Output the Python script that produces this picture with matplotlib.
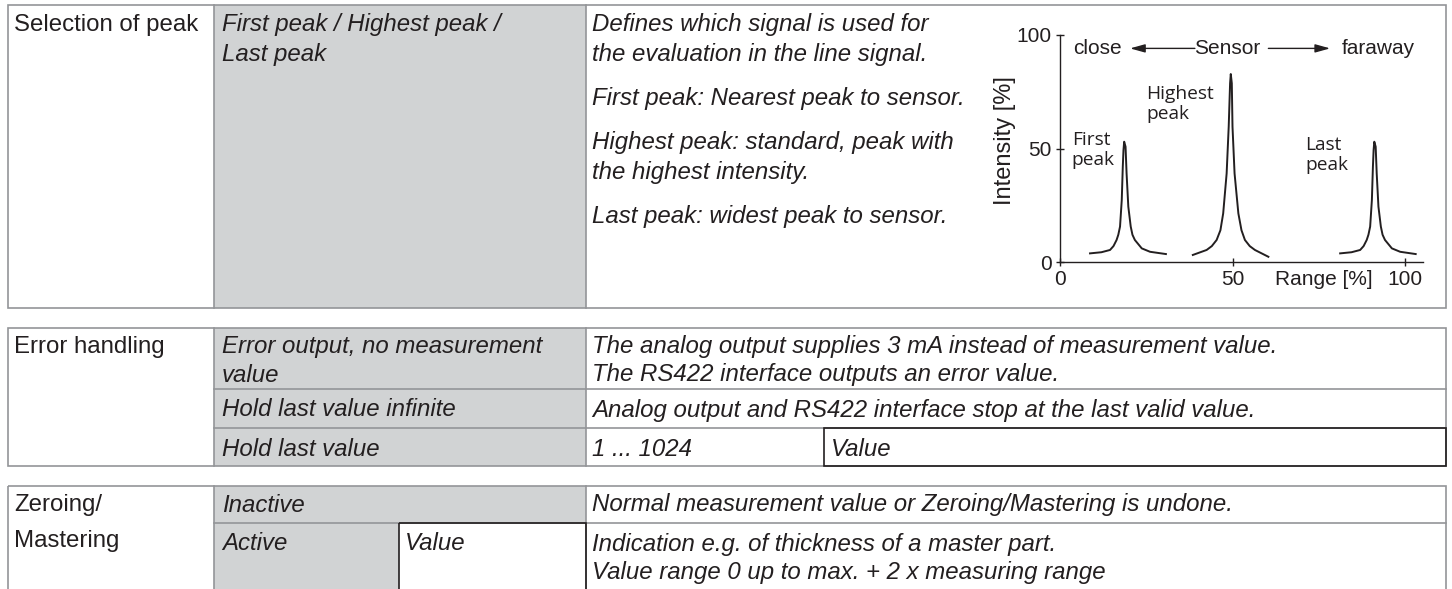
import matplotlib.pyplot as plt
from matplotlib.patches import Rectangle

plt.rcParams["font.family"] = ["Liberation Sans", "DejaVu Sans"]

INK = "#231f20"
RULE = "#939598"
SHADE = "#d1d3d4"
TXT = 17.3

# peak curves (range in %, intensity in %)
first_x = [8.7, 12.0, 14.5, 15.5, 16.4, 16.9, 17.4, 17.9, 18.2, 18.4, 18.6,
           19.0, 19.3, 19.8, 20.5, 21.0, 21.7, 23.7, 26.1, 30.7]
first_y = [3.8, 4.3, 5.3, 7.0, 9.7, 12.0, 15.6, 27.3, 42.0, 49.3, 53.0,
           50.8, 39.0, 24.4, 15.6, 12.0, 9.7, 6.0, 4.5, 3.5]
high_x = [38.5, 42.5, 44.0, 45.4, 46.5, 47.3, 48.3, 48.9, 49.3, 49.5,
          49.8, 50.0, 50.6, 51.7, 52.6, 53.6, 55.0, 56.5, 60.4]
high_y = [3.1, 5.3, 7.0, 9.7, 14.0, 21.4, 39.0, 59.6, 78.7, 82.8,
          78.7, 59.6, 39.0, 21.4, 14.0, 9.7, 7.0, 5.3, 2.3]
last_x = [81.2, 84.5, 87.0, 88.0, 88.9, 89.4, 89.9, 90.4, 90.7, 90.9, 91.1,
          91.5, 91.8, 92.3, 93.0, 93.5, 94.2, 96.2, 98.6, 103.1]
last_y = [3.8, 4.3, 5.3, 7.0, 9.7, 12.0, 15.6, 27.3, 42.0, 49.3, 53.0,
          50.8, 39.0, 24.4, 15.6, 12.0, 9.7, 6.0, 4.5, 3.5]
ticks = [0, 50, 100]

# table texts
sel_name = ["Selection of peak"]
sel_option = ["First peak / Highest peak /", "Last peak"]
sel_desc = ["Defines which signal is used for",
            "the evaluation in the line signal.",
            "First peak: Nearest peak to sensor.",
            "Highest peak: standard, peak with",
            "the highest intensity.",
            "Last peak: widest peak to sensor."]
err_name = ["Error handling"]
err_option = [["Error output, no measurement", "value"],
              ["Hold last value infinite"],
              ["Hold last value"]]
err_desc = [["The analog output supplies 3 mA instead of measurement value.",
             "The RS422 interface outputs an error value."],
            ["Analog output and RS422 interface stop at the last valid value."],
            ["1 ... 1024"]]
err_value = "Value"
zero_name = ["Zeroing/", "Mastering"]
zero_option = ["Inactive", "Active"]
zero_value = "Value"
zero_desc = [["Normal measurement value or Zeroing/Mastering is undone."],
             ["Indication e.g. of thickness of a master part.",
              "Value range 0 up to max. + 2 x measuring range"]]

fig = plt.figure(figsize=(14.52, 5.89), dpi=100)
bg = fig.add_axes([0, 0, 1, 1])
bg.set_xlim(0, 1452)
bg.set_ylim(589, 0)
bg.axis("off")


def fill(x0, y0, x1, y1, color):
    bg.add_patch(Rectangle((x0, y0), x1 - x0, y1 - y0, facecolor=color,
                           edgecolor="none", zorder=1))


def frame(x0, y0, x1, y1, color=RULE):
    bg.add_patch(Rectangle((x0, y0), x1 - x0, y1 - y0, facecolor="none",
                           edgecolor=color, lw=1.2, zorder=3))


def hline(y, x0, x1, color=RULE):
    bg.plot([x0, x1], [y, y], color=color, lw=1.2, zorder=2)


def vline(x, y0, y1, color=RULE):
    bg.plot([x, x], [y0, y1], color=color, lw=1.2, zorder=2)


def write(x, y, rows, step=28, italic=True):
    for i, s in enumerate(rows):
        bg.text(x, y + i * step + 8.5, s, fontsize=TXT, color=INK,
                style="italic" if italic else "normal", va="baseline",
                ha="left", zorder=4)


L, C1, C2, R = 8, 214, 586, 1446

# table 1: selection of peak
fill(C1, 5, C2, 308, SHADE)
frame(L, 5, R, 308)
vline(C1, 5, 308)
vline(C2, 5, 308)
write(14, 23, sel_name, italic=False)
write(222, 23, sel_option, step=30)
for row, yc in zip(sel_desc, [23, 53, 97, 141, 171, 215]):
    write(592, yc, [row])

# table 2: error handling
fill(C1, 328, C2, 466, SHADE)
frame(L, 328, R, 466)
vline(C1, 328, 466)
vline(C2, 328, 466)
hline(389, C1, R)
hline(428, C1, R)
frame(824, 428, R, 466, color=INK)
write(14, 345, err_name, italic=False)
for opt, desc, yc in zip(err_option, err_desc, [345, 408, 447]):
    write(222, yc, opt)
    write(592, yc, desc)
write(831, 447, [err_value])

# table 3: zeroing / mastering (cut at the bottom edge)
fill(C1, 486, C2, 523, SHADE)
fill(C1, 523, 399, 600, SHADE)
frame(L, 486, R, 600)
vline(C1, 486, 600)
vline(C2, 486, 600)
hline(523, C1, R)
frame(399, 523, C2, 600, color=INK)
write(14, 503, zero_name, step=36, italic=False)
for opt, desc, yc in zip(zero_option, zero_desc, [503, 542]):
    write(222, yc, [opt])
    write(592, yc, desc)
write(405, 542, [zero_value])

# inset chart
ax = fig.add_axes([1060 / 1452, 327 / 589, 365.7 / 1452, 227 / 589])
ax.patch.set_alpha(0)
for xs, ys in [(first_x, first_y), (high_x, high_y), (last_x, last_y)]:
    ax.plot(xs, ys, color=INK, lw=1.4, solid_joinstyle="round")
ax.set_xlim(0, 106)
ax.set_ylim(0, 100)
for side in ["top", "right"]:
    ax.spines[side].set_visible(False)
ax.spines["left"].set_bounds(0, 100)
ax.spines["bottom"].set_bounds(0, 105.2)
for side in ["left", "bottom"]:
    ax.spines[side].set_color(INK)
    ax.spines[side].set_linewidth(1.0)
ax.set_xticks(ticks)
ax.set_yticks(ticks)
ax.tick_params(direction="inout", length=6, width=1.0, color=INK,
               labelsize=15, labelcolor=INK)
ax.tick_params(axis="y", pad=3)
ax.tick_params(axis="x", pad=3)
ax.text(-0.15, 0.537, "Intensity [%]", transform=ax.transAxes, rotation=90,
        ha="center", va="center", fontsize=17, color=INK)
ax.text(62.3, -7.9, "Range [%]", ha="left", va="center", fontsize=15,
        color=INK, clip_on=False)

ax.text(3.9, 94.1, "close", ha="left", va="center", fontsize=15, color=INK)
ax.text(48.6, 94.1, "Sensor", ha="center", va="center", fontsize=15, color=INK)
ax.text(81.6, 94.1, "faraway", ha="left", va="center", fontsize=15, color=INK)
arrow = dict(arrowstyle="-|>,head_length=0.9,head_width=0.25", color=INK,
             lw=1.0, shrinkA=0, shrinkB=0)
ax.annotate("", xy=(20.3, 94.1), xytext=(39.1, 94.1), arrowprops=arrow)
ax.annotate("", xy=(78.3, 94.1), xytext=(60.4, 94.1), arrowprops=arrow)

peak_font = dict(fontsize=13.8, color=INK, family=["Open Sans", "DejaVu Sans"],
                 ha="left", va="center", linespacing=1.15)
ax.text(3.4, 49.5, "First\npeak", **peak_font)
ax.text(25.1, 69.7, "Highest\npeak", **peak_font)
ax.text(71.0, 47.3, "Last\npeak", **peak_font)

fig.savefig("out.png", dpi=100)
